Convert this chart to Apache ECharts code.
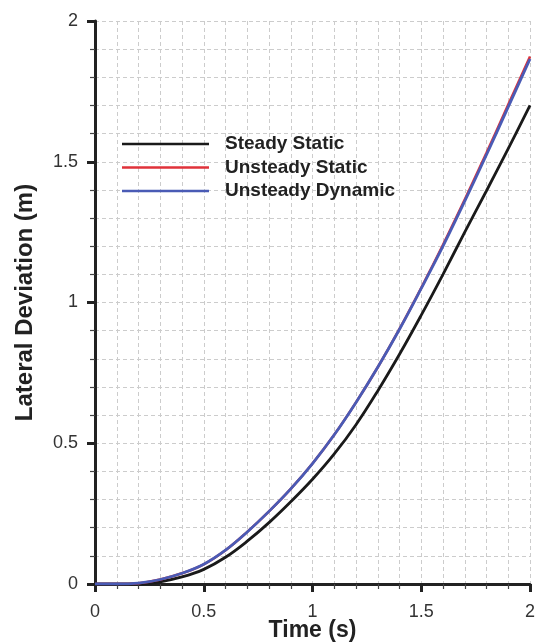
<!DOCTYPE html>
<html>
<head>
<meta charset="utf-8">
<script src="https://cdn.jsdelivr.net/npm/echarts@6/dist/echarts.min.js"></script>
<style>html,body{margin:0;padding:0;background:#fff}#c{width:537px;height:642px}</style>
</head>
<body>
<div id="c"></div>
<script>
const timeValues = [0,0.1,0.2,0.3,0.4,0.5,0.6,0.7,0.8,0.9,1.0,1.1,1.2,1.3,1.4,1.5,1.6,1.7,1.8,1.9,2.0];
const steadyStatic = [0,0,0,0.008,0.025,0.052,0.095,0.152,0.218,0.292,0.372,0.462,0.566,0.686,0.816,0.955,1.1,1.25,1.397,1.547,1.70];
const unsteadyStatic = [0,0,0.003,0.016,0.038,0.07,0.12,0.185,0.258,0.338,0.428,0.53,0.645,0.77,0.906,1.052,1.205,1.366,1.532,1.703,1.874];
const unsteadyDynamic = [0,0,0.003,0.016,0.038,0.07,0.12,0.185,0.258,0.338,0.428,0.53,0.645,0.77,0.905,1.05,1.2,1.36,1.525,1.695,1.865];
const seriesNames = ['Steady Static','Unsteady Static','Unsteady Dynamic'];
const seriesColors = ['#1a1a1a','#e0323a','#4a5bb5'];

function pairs(ys){ return timeValues.map((t,i)=>[t,ys[i]]); }

const font = '"Liberation Sans", Arial, Helvetica, sans-serif';
const gridLine = {show:true, lineStyle:{color:'#cccccc', width:1, type:[4,3]}};

function axisCommon(name, nameGap, labelMargin, nameSize){
  return {
    type:'value', min:0, max:2, interval:0.5,
    name:name, nameLocation:'middle', nameGap:nameGap, nameMoveOverlap:false,
    nameTextStyle:{fontFamily:font, fontSize:nameSize, fontWeight:'bold', color:'#222'},
    axisLine:{show:true, onZero:false, lineStyle:{color:'#222', width:3}},
    axisTick:{show:true, inside:false, length:8, lineStyle:{color:'#222', width:3}},
    minorTick:{show:true, splitNumber:5, length:5, lineStyle:{color:'#444', width:1.2}},
    axisLabel:{fontFamily:font, fontSize:18, color:'#333', margin:labelMargin,
      formatter: v => (Math.round(v*10)/10).toString()},
    splitLine:gridLine,
    minorSplitLine:gridLine
  };
}

const chart = echarts.init(document.getElementById('c'), null, {renderer:'canvas'});
chart.setOption({
  animation:false,
  backgroundColor:'#fff',
  grid:{left:95, right:7, top:21, bottom:58, containLabel:false, outerBoundsMode:'none'},
  xAxis: axisCommon('Time (s)', 35.5, 19, 23),
  yAxis: axisCommon('Lateral Deviation (m)', 58, 17, 24),
  legend:{
    show:true, orient:'vertical', left:117, top:129,
    icon:'rect', itemWidth:87, itemHeight:2.5, itemGap:3.5,
    textStyle:{fontFamily:font, fontSize:19, fontWeight:'bold', color:'#222', padding:[0,0,0,11], lineHeight:20},
    data: seriesNames
  },
  series: seriesNames.map((n,i)=>({
    name:n, type:'line', showSymbol:false, symbol:'none',
    smooth:0.4,
    data: pairs([steadyStatic, unsteadyStatic, unsteadyDynamic][i]),
    lineStyle:{color:seriesColors[i], width: i===1 ? 2.5 : 2.8},
    itemStyle:{color:seriesColors[i]},
    z: i===2 ? 4 : (i===1 ? 3 : 2)
  }))
});
</script>
</body>
</html>
